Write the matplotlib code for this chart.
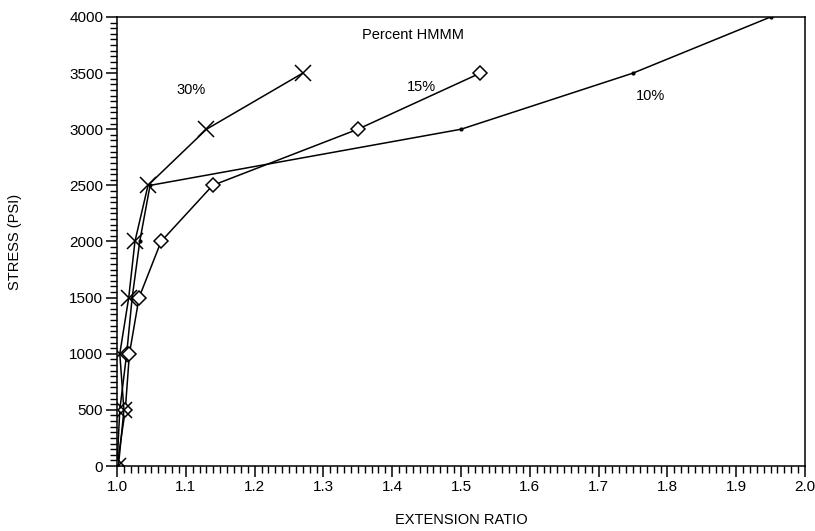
import numpy as np
import matplotlib.pyplot as plt
from matplotlib.ticker import MultipleLocator

plt.rcParams['font.family'] = ['Liberation Sans', 'DejaVu Sans']

# stress levels (psi)
stress = [0, 500, 1000, 1500, 2000, 2500, 3000, 3500]
stress_10 = [0, 500, 1000, 1500, 2000, 2500, 3000, 3500, 4000]

# extension ratio for each HMMM percentage
ext_30 = [1.002, 1.01, 1.004, 1.017, 1.026, 1.045, 1.13, 1.27]
ext_15 = [1.0, 1.012, 1.018, 1.032, 1.064, 1.139, 1.35, 1.528]
ext_10 = [1.0, 1.004, 1.014, 1.022, 1.033, 1.048, 1.5, 1.75, 1.95]

fig = plt.figure(figsize=(8.15, 5.31), dpi=100)
ax = fig.add_axes([0.1436, 0.1224, 0.8441, 0.8456])

ax.plot(ext_10, stress_10, color='black', lw=1.1, marker='.', ms=4)
ax.plot(ext_15, stress, color='black', lw=1.1, marker='D', ms=7,
        mfc='white', mec='black', mew=1.1)
ax.plot(ext_30, stress, color='black', lw=1.1, marker='x', ms=11, mew=1.1)

ax.set_xlim(1.0, 2.0)
ax.set_ylim(0, 4000)
ax.xaxis.set_major_locator(MultipleLocator(0.1))
ax.xaxis.set_minor_locator(MultipleLocator(0.01))
ax.yaxis.set_major_locator(MultipleLocator(500))
ax.yaxis.set_minor_locator(MultipleLocator(50))
ax.xaxis.set_major_formatter(plt.FuncFormatter(lambda v, p: '%.1f' % v))

ax.tick_params(which='major', direction='out', length=8, width=1.1,
               labelsize=11, pad=2)
ax.tick_params(which='minor', direction='out', length=5, width=1.0)
ax.tick_params(top=False, right=False, which='both')
for s in ax.spines.values():
    s.set_linewidth(1.1)

ax.set_xlabel('EXTENSION RATIO', fontsize=10.5, labelpad=14)
ax.set_ylabel('STRESS (PSI)', fontsize=10.5, labelpad=34)

ax.text(1.43, 3840, 'Percent HMMM', fontsize=10.5, ha='center', va='center')
ax.text(1.108, 3350, '30%', fontsize=10.5, ha='center', va='center')
ax.text(1.443, 3376, '15%', fontsize=10.5, ha='center', va='center')
ax.text(1.776, 3296, '10%', fontsize=10.5, ha='center', va='center')

fig.savefig('out.png', dpi=100)
